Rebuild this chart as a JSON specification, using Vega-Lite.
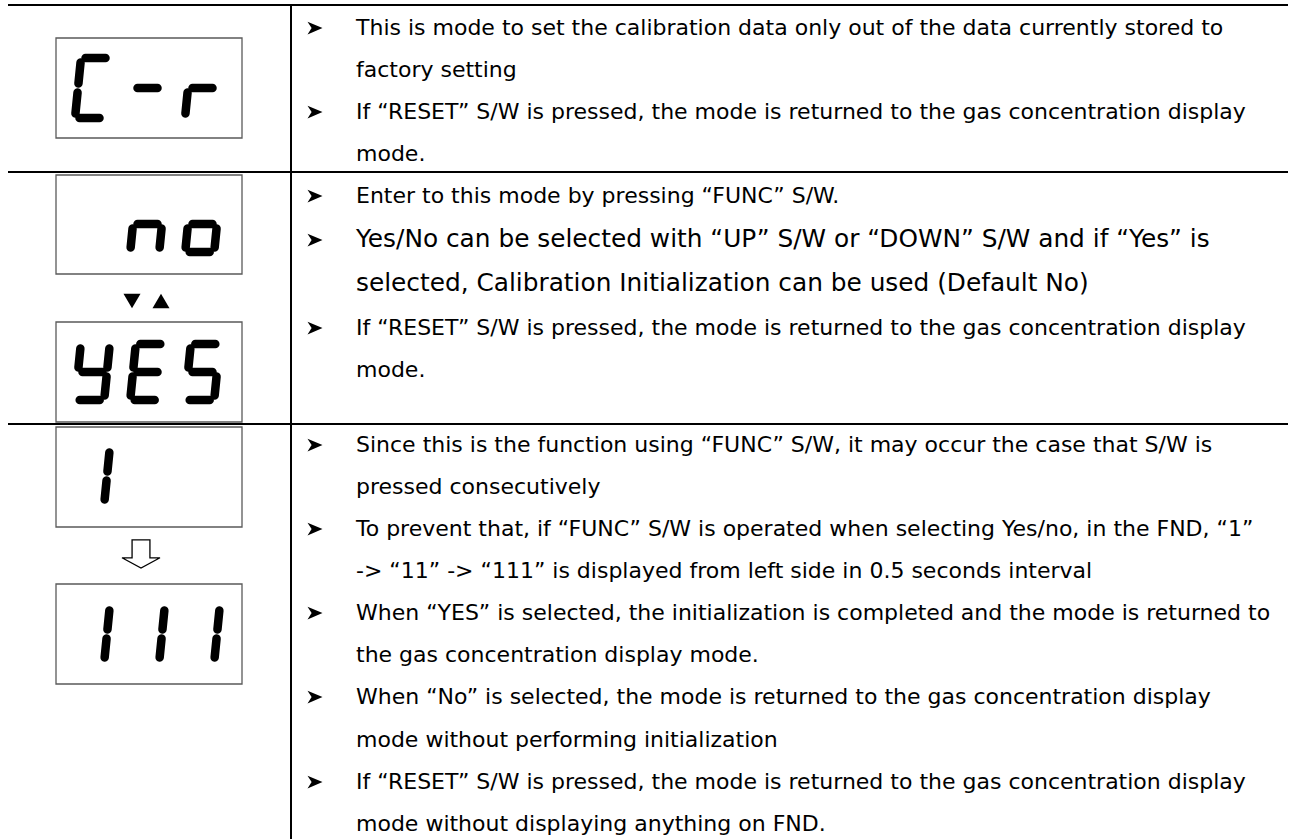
{
  "$schema": "https://vega.github.io/schema/vega-lite/v6.json",
  "width": 1290,
  "height": 839,
  "autosize": {"type": "none"},
  "padding": 0,
  "background": "white",
  "config": {"view": {"stroke": null}},
  "datasets": {
    "grid": [
      {"x": 8, "y": 5, "x2": 1288, "y2": 5},
      {"x": 8, "y": 172, "x2": 1288, "y2": 172},
      {"x": 8, "y": 424, "x2": 1288, "y2": 424},
      {"x": 291, "y": 4, "x2": 291, "y2": 839}
    ],
    "boxes": [
      {"x": 56, "y": 38, "x2": 242, "y2": 138},
      {"x": 56, "y": 175, "x2": 242, "y2": 274},
      {"x": 56, "y": 322, "x2": 242, "y2": 422},
      {"x": 56, "y": 427, "x2": 242, "y2": 527},
      {"x": 56, "y": 584, "x2": 242, "y2": 684}
    ],
    "segments": [
      {"x": 85.5, "y": 58, "x2": 105.5, "y2": 58},
      {"x": 79.5, "y": 118, "x2": 99.5, "y2": 118},
      {"x": 77.55, "y": 92.5, "x2": 75.45, "y2": 113.5},
      {"x": 80.55, "y": 62.5, "x2": 78.45, "y2": 83.5},
      {"x": 137.5, "y": 88, "x2": 157.5, "y2": 88},
      {"x": 187.55, "y": 92.5, "x2": 185.45, "y2": 113.5},
      {"x": 192.5, "y": 88, "x2": 212.5, "y2": 88},

      {"x": 161.55, "y": 228.5, "x2": 159.65, "y2": 247.5},
      {"x": 132.55, "y": 228.5, "x2": 130.65, "y2": 247.5},
      {"x": 137.5, "y": 224, "x2": 157.5, "y2": 224},
      {"x": 216.55, "y": 228.5, "x2": 214.65, "y2": 247.5},
      {"x": 189.7, "y": 252, "x2": 209.7, "y2": 252},
      {"x": 187.55, "y": 228.5, "x2": 185.65, "y2": 247.5},
      {"x": 192.5, "y": 224, "x2": 212.5, "y2": 224},

      {"x": 109.35, "y": 348.5, "x2": 107.45, "y2": 367.5},
      {"x": 106.55, "y": 376.5, "x2": 104.65, "y2": 395.5},
      {"x": 79.7, "y": 400, "x2": 99.7, "y2": 400},
      {"x": 80.35, "y": 348.5, "x2": 78.45, "y2": 367.5},
      {"x": 82.5, "y": 372, "x2": 102.5, "y2": 372},
      {"x": 140.3, "y": 344, "x2": 160.3, "y2": 344},
      {"x": 134.7, "y": 400, "x2": 154.7, "y2": 400},
      {"x": 132.55, "y": 376.5, "x2": 130.65, "y2": 395.5},
      {"x": 135.35, "y": 348.5, "x2": 133.45, "y2": 367.5},
      {"x": 137.5, "y": 372, "x2": 157.5, "y2": 372},
      {"x": 195.3, "y": 344, "x2": 215.3, "y2": 344},
      {"x": 216.55, "y": 376.5, "x2": 214.65, "y2": 395.5},
      {"x": 189.7, "y": 400, "x2": 209.7, "y2": 400},
      {"x": 190.35, "y": 348.5, "x2": 188.45, "y2": 367.5},
      {"x": 192.5, "y": 372, "x2": 212.5, "y2": 372},

      {"x": 109.35, "y": 452.5, "x2": 107.45, "y2": 471.5},
      {"x": 106.55, "y": 480.5, "x2": 104.65, "y2": 499.5},

      {"x": 109.35, "y": 610.5, "x2": 107.45, "y2": 629.5},
      {"x": 106.55, "y": 638.5, "x2": 104.65, "y2": 657.5},
      {"x": 164.35, "y": 610.5, "x2": 162.45, "y2": 629.5},
      {"x": 161.55, "y": 638.5, "x2": 159.65, "y2": 657.5},
      {"x": 219.35, "y": 610.5, "x2": 217.45, "y2": 629.5},
      {"x": 216.55, "y": 638.5, "x2": 214.65, "y2": 657.5}
    ],
    "triangles": [
      {"x": 132, "y": 301, "dir": "down"},
      {"x": 161, "y": 301, "dir": "up"}
    ],
    "arrow": [
      {"x": 141, "y": 554}
    ],
    "bullets": [
      {"x": 315, "y": 28}, {"x": 315, "y": 112},
      {"x": 315, "y": 196}, {"x": 315, "y": 240}, {"x": 315, "y": 328},
      {"x": 315, "y": 445}, {"x": 315, "y": 529}, {"x": 315, "y": 613},
      {"x": 315, "y": 697}, {"x": 315, "y": 782}
    ],
    "lines": [
      {"x": 356, "y": 28, "t": "This is mode to set the calibration data only out of the data currently stored to"},
      {"x": 356, "y": 70, "t": "factory setting"},
      {"x": 356, "y": 112, "t": "If “RESET” S/W is pressed, the mode is returned to the gas concentration display"},
      {"x": 356, "y": 154, "t": "mode."},
      {"x": 356, "y": 196, "t": "Enter to this mode by pressing “FUNC” S/W."},
      {"x": 356, "y": 328, "t": "If “RESET” S/W is pressed, the mode is returned to the gas concentration display"},
      {"x": 356, "y": 370, "t": "mode."},
      {"x": 356, "y": 445, "t": "Since this is the function using “FUNC” S/W, it may occur the case that S/W is"},
      {"x": 356, "y": 487, "t": "pressed consecutively"},
      {"x": 356, "y": 529, "t": "To prevent that, if “FUNC” S/W is operated when selecting Yes/no, in the FND, “1”"},
      {"x": 356, "y": 571, "t": "-> “11” -> “111” is displayed from left side in 0.5 seconds interval"},
      {"x": 356, "y": 613, "t": "When “YES” is selected, the initialization is completed and the mode is returned to"},
      {"x": 356, "y": 655, "t": "the gas concentration display mode."},
      {"x": 356, "y": 697, "t": "When “No” is selected, the mode is returned to the gas concentration display"},
      {"x": 356, "y": 740, "t": "mode without performing initialization"},
      {"x": 356, "y": 782, "t": "If “RESET” S/W is pressed, the mode is returned to the gas concentration display"},
      {"x": 356, "y": 824, "t": "mode without displaying anything on FND."}
    ],
    "biglines": [
      {"x": 356, "y": 240, "t": "Yes/No can be selected with “UP” S/W or “DOWN” S/W and if “Yes” is"},
      {"x": 356, "y": 284, "t": "selected, Calibration Initialization can be used (Default No)"}
    ]
  },
  "layer": [
    {
      "data": {"name": "grid"},
      "mark": {"type": "rule", "color": "black", "strokeWidth": 2},
      "encoding": {
        "x": {"field": "x", "type": "quantitative", "scale": {"domain": [0, 1290], "nice": false, "zero": false}, "axis": null},
        "y": {"field": "y", "type": "quantitative", "scale": {"domain": [0, 839], "nice": false, "zero": false, "reverse": true}, "axis": null},
        "x2": {"field": "x2"},
        "y2": {"field": "y2"}
      }
    },
    {
      "data": {"name": "boxes"},
      "mark": {"type": "rect", "fill": null, "filled": false, "stroke": "#5a5a5a", "strokeWidth": 1.3},
      "encoding": {
        "x": {"field": "x", "type": "quantitative"},
        "y": {"field": "y", "type": "quantitative"},
        "x2": {"field": "x2"},
        "y2": {"field": "y2"}
      }
    },
    {
      "data": {"name": "segments"},
      "mark": {"type": "rule", "color": "black", "strokeWidth": 8.5, "strokeCap": "round"},
      "encoding": {
        "x": {"field": "x", "type": "quantitative"},
        "y": {"field": "y", "type": "quantitative"},
        "x2": {"field": "x2"},
        "y2": {"field": "y2"}
      }
    },
    {
      "data": {"name": "triangles"},
      "mark": {"type": "point", "filled": true, "color": "black", "size": 290, "opacity": 1},
      "encoding": {
        "x": {"field": "x", "type": "quantitative"},
        "y": {"field": "y", "type": "quantitative"},
        "shape": {"field": "dir", "type": "nominal", "scale": {"domain": ["down", "up"], "range": ["triangle-down", "triangle-up"]}, "legend": null}
      }
    },
    {
      "data": {"name": "arrow"},
      "mark": {"type": "point", "filled": false, "stroke": "black", "strokeWidth": 1.3, "size": 1444, "opacity": 1,
        "shape": "M-0.47,-0.74L0.47,-0.74L0.47,0.2L1,0.2L0,0.74L-1,0.2L-0.47,0.2Z"},
      "encoding": {
        "x": {"field": "x", "type": "quantitative"},
        "y": {"field": "y", "type": "quantitative"}
      }
    },
    {
      "data": {"name": "bullets"},
      "mark": {"type": "point", "filled": true, "color": "black", "opacity": 1, "size": 225,
        "shape": "M-1,-0.85L1,0L-1,0.85L-0.45,0Z"},
      "encoding": {
        "x": {"field": "x", "type": "quantitative"},
        "y": {"field": "y", "type": "quantitative"}
      }
    },
    {
      "data": {"name": "lines"},
      "mark": {"type": "text", "font": "DejaVu Sans", "fontSize": 22, "align": "left", "baseline": "middle", "color": "black"},
      "encoding": {
        "x": {"field": "x", "type": "quantitative"},
        "y": {"field": "y", "type": "quantitative"},
        "text": {"field": "t"}
      }
    },
    {
      "data": {"name": "biglines"},
      "mark": {"type": "text", "font": "DejaVu Sans", "fontSize": 24.8, "align": "left", "baseline": "middle", "color": "black"},
      "encoding": {
        "x": {"field": "x", "type": "quantitative"},
        "y": {"field": "y", "type": "quantitative"},
        "text": {"field": "t"}
      }
    }
  ]
}
